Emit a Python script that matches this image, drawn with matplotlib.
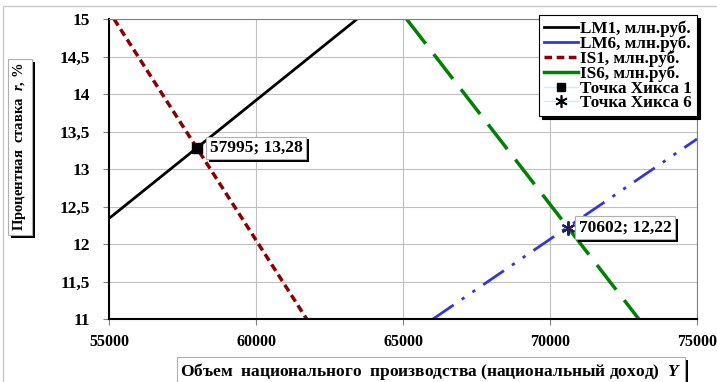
import matplotlib
matplotlib.use("Agg")
import matplotlib.pyplot as plt
import matplotlib.patheffects as pe
from matplotlib.lines import Line2D
from matplotlib.patches import Rectangle

plt.rcParams['font.family'] = ['Liberation Serif', 'DejaVu Serif']
plt.rcParams['font.weight'] = 'bold'
plt.rcParams['mathtext.fontset'] = 'custom'
plt.rcParams['mathtext.rm'] = 'Liberation Serif:bold'
plt.rcParams['mathtext.it'] = 'Liberation Serif:italic:bold'
plt.rcParams['mathtext.bf'] = 'Liberation Serif:bold'

# Curves (national income Y, interest rate r)
lm1_y = [55000, 63440]
lm1_r = [12.34, 15.0]
lm6_y = [66020, 75000]
lm6_r = [11.0, 13.40]
is1_y = [55170, 61724]
is1_r = [15.0, 11.0]
is6_y = [65120, 73020]
is6_r = [15.0, 11.0]

# Hicks equilibrium points
hicks1 = (57995, 13.28)
hicks6 = (70602, 12.22)

x_ticks = [55000, 60000, 65000, 70000, 75000]
y_ticks = [11, 11.5, 12, 12.5, 13, 13.5, 14, 14.5, 15]

W, H = 717, 382
fig = plt.figure(figsize=(W / 100, H / 100), dpi=100)
fig.patch.set_facecolor('white')

# outer chart frame
fig.add_artist(Rectangle((3 / W, -0.05), 1.1, 1 - 6 / H + 0.05, transform=fig.transFigure,
                         fill=False, edgecolor='#c8c8c8', lw=1.0))

ax = fig.add_axes([109 / W, 1 - 319 / H, (697 - 109) / W, (319 - 19) / H])
ax.set_xlim(55000, 75000)
ax.set_ylim(11, 15)

ax.set_xticks(x_ticks)
ax.set_xticklabels([str(v) for v in x_ticks])
ax.set_yticks(y_ticks)
ax.set_yticklabels([('%g' % v).replace('.', ',') for v in y_ticks])
ax.tick_params(axis='both', direction='out', length=4, width=0.8, color='#808080')
ax.tick_params(axis='x', pad=7, labelsize=11.5)
ax.tick_params(axis='y', pad=9.5, labelsize=12.5)
for lab in ax.get_xticklabels() + ax.get_yticklabels():
    lab.set_fontweight('bold')

ax.grid(True, color='#c0c0c0', lw=0.8)
ax.set_axisbelow(True)
for s in ['top', 'right']:
    ax.spines[s].set_color('#808080')
    ax.spines[s].set_linewidth(0.8)
for s in ['left', 'bottom']:
    ax.spines[s].set_color('black')
    ax.spines[s].set_linewidth(1.5)

ax.plot(lm1_y, lm1_r, color='black', lw=2.0, solid_capstyle='butt', label='LM1, млн.руб.')
ax.plot(lm6_y, lm6_r, color='#3535d8', lw=2.0, dashes=(9, 3.5, 1.2, 3.5, 1.2, 3.5),
        label='LM6, млн.руб.')
ax.plot(is1_y, is1_r, color='#8b0000', lw=2.5, dashes=(2.2, 1.3), label='IS1, млн.руб.')
ax.plot(is6_y, is6_r, color='#008000', lw=2.5, dashes=(9, 3.8), label='IS6, млн.руб.')

ax.plot([hicks1[0]], [hicks1[1]], marker='s', ms=7, color='black', ls='none', zorder=5)
ax.plot([hicks6[0]], [hicks6[1]], marker=(6, 2, 0), ms=10, mew=1.6, color='#22225e',
        ls='none', zorder=5)

shadow = [pe.SimplePatchShadow(offset=(2, -2), shadow_rgbFace='black', alpha=1.0), pe.Normal()]


def boxed(txt):
    txt.get_bbox_patch().set_path_effects(shadow)
    return txt


def fmt_pt(p):
    return '%d; %s' % (p[0], ('%.2f' % p[1]).replace('.', ','))


boxed(ax.annotate(fmt_pt(hicks1), xy=hicks1, xytext=(9, 0), textcoords='offset points',
                  ha='left', va='center', fontsize=12.5, fontweight='bold',
                  bbox=dict(boxstyle='square,pad=0.2', fc='white', ec='#b0b0b0', lw=0.8),
                  zorder=6))
boxed(ax.annotate(fmt_pt(hicks6), xy=hicks6, xytext=(8, 0), textcoords='offset points',
                  ha='left', va='center', fontsize=12.5, fontweight='bold',
                  bbox=dict(boxstyle='square,pad=0.2', fc='white', ec='#b0b0b0', lw=0.8),
                  zorder=6))

# axis titles
boxed(fig.text(20 / W, 1 - 147 / H, 'Процентная  ставка  $r$, %', rotation=90,
               ha='center', va='center', fontsize=10.5, fontweight='bold',
               bbox=dict(boxstyle='square,pad=0.25', fc='white', ec='#b0b0b0', lw=0.8)))
boxed(fig.text(431 / W, 1 - 371 / H,
               'Объем  национального  производства (национальный доход)  $Y$',
               ha='center', va='center', fontsize=12.5, fontweight='bold',
               bbox=dict(boxstyle='square,pad=0.2', fc='white', ec='#b0b0b0', lw=0.8)))

handles = [
    Line2D([], [], color='black', lw=2.0),
    Line2D([], [], color='#3535d8', lw=2.0),
    Line2D([], [], color='#8b0000', lw=2.5, dashes=(2.2, 1.3)),
    Line2D([], [], color='#008000', lw=2.5),
    Line2D([], [], color='#cdeef2', lw=1.0, marker='s', ms=6, mfc='black', mec='black'),
    Line2D([], [], color='#cdeef2', lw=1.0, marker=(6, 2, 0), ms=9, mew=1.2, mfc='black',
           mec='black'),
]
labels = ['LM1, млн.руб.', 'LM6, млн.руб.', 'IS1, млн.руб.', 'IS6, млн.руб.',
          'Точка Хикса 1', 'Точка Хикса 6']
leg = fig.legend(handles, labels, loc='upper right', bbox_to_anchor=(697 / W, 1 - 15 / H),
                 prop={'family': 'Liberation Serif', 'weight': 'bold', 'size': 12.3},
                 frameon=True, fancybox=False, edgecolor='black', framealpha=1,
                 handlelength=2.0, handletextpad=0.1, labelspacing=-0.08, borderpad=0.3,
                 borderaxespad=0, shadow={'color': 'black', 'alpha': 1.0})
leg.get_frame().set_linewidth(0.8)

fig.savefig('out.png', dpi=100, facecolor='white')
